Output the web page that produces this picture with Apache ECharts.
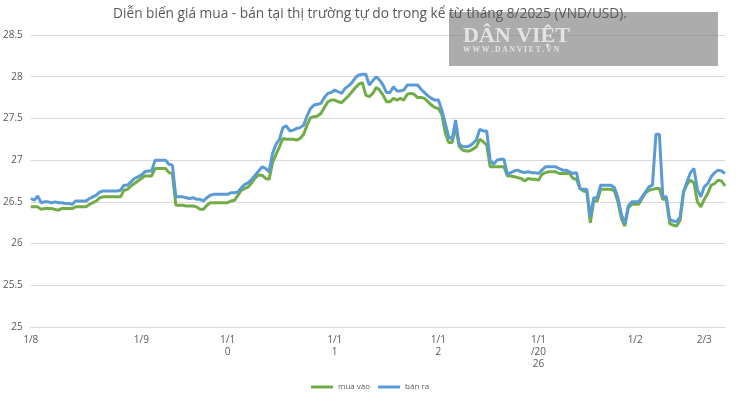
<!DOCTYPE html>
<html>
<head>
<meta charset="utf-8">
<script src="https://cdn.jsdelivr.net/npm/echarts@6.0.0/dist/echarts.min.js"></script>
<style>
  html, body { margin: 0; padding: 0; background: #fff; }
  #chart { width: 740px; height: 397px; }
</style>
</head>
<body>
<div id="chart"></div>
<script>
// one point per trading day, 1/8/2025 -> early 3/2026
const muaVao = [
  26.44, 26.44, 26.44, 26.41, 26.42, 26.42, 26.42, 26.41, 26.40, 26.42,
  26.42, 26.42, 26.42, 26.44, 26.44, 26.44, 26.44, 26.47, 26.49, 26.51,
  26.55, 26.56, 26.56, 26.56, 26.56, 26.56, 26.56, 26.64, 26.65, 26.69,
  26.72, 26.75, 26.78, 26.81, 26.81, 26.81, 26.90, 26.90, 26.90, 26.90,
  26.85, 26.84, 26.46, 26.46, 26.46, 26.45, 26.45, 26.45, 26.44, 26.41,
  26.41, 26.46, 26.49, 26.49, 26.49, 26.49, 26.49, 26.49, 26.51, 26.52,
  26.58, 26.64, 26.66, 26.68, 26.73, 26.79, 26.82, 26.82, 26.78, 26.77,
  26.97, 27.07, 27.16, 27.26, 27.25, 27.25, 27.25, 27.24, 27.26, 27.31,
  27.42, 27.51, 27.52, 27.53, 27.56, 27.63, 27.70, 27.72, 27.72, 27.70,
  27.69, 27.73, 27.77, 27.82, 27.87, 27.91, 27.93, 27.78, 27.76, 27.80,
  27.87, 27.84, 27.78, 27.70, 27.70, 27.74, 27.72, 27.74, 27.72, 27.79,
  27.80, 27.79, 27.75, 27.75, 27.74, 27.70, 27.66, 27.63, 27.62, 27.55,
  27.33, 27.21, 27.21, 27.40, 27.17, 27.12, 27.11, 27.11, 27.13, 27.16,
  27.25, 27.22, 27.18, 26.92, 26.92, 26.92, 26.92, 26.92, 26.81, 26.81,
  26.80, 26.79, 26.78, 26.75, 26.78, 26.77, 26.77, 26.76, 26.83, 26.85,
  26.86, 26.86, 26.86, 26.84, 26.84, 26.84, 26.84, 26.78, 26.77, 26.66,
  26.63, 26.62, 26.25, 26.51, 26.51, 26.65, 26.65, 26.65, 26.65, 26.63,
  26.50, 26.30, 26.21, 26.43, 26.47, 26.47, 26.47, 26.54, 26.61, 26.64,
  26.65, 26.66, 26.66, 26.53, 26.53, 26.24, 26.22, 26.21, 26.28, 26.62,
  26.71, 26.76, 26.73, 26.50, 26.44, 26.53, 26.60, 26.70, 26.72, 26.76,
  26.75, 26.69
];

const banRa = [
  26.54, 26.52, 26.57, 26.49, 26.50, 26.50, 26.49, 26.50, 26.49, 26.49,
  26.48, 26.48, 26.47, 26.51, 26.51, 26.51, 26.51, 26.54, 26.56, 26.58,
  26.62, 26.63, 26.63, 26.63, 26.63, 26.63, 26.64, 26.70, 26.70, 26.74,
  26.78, 26.80, 26.82, 26.86, 26.87, 26.87, 27.00, 27.00, 27.00, 27.00,
  26.95, 26.94, 26.56, 26.56, 26.56, 26.55, 26.54, 26.55, 26.53, 26.53,
  26.51, 26.55, 26.58, 26.59, 26.59, 26.59, 26.59, 26.59, 26.61, 26.61,
  26.62, 26.67, 26.71, 26.73, 26.77, 26.82, 26.87, 26.92, 26.90, 26.86,
  27.08, 27.19, 27.25, 27.39, 27.41, 27.35, 27.36, 27.38, 27.39, 27.42,
  27.53, 27.62, 27.66, 27.67, 27.68, 27.75, 27.80, 27.81, 27.84, 27.82,
  27.80, 27.86, 27.89, 27.93, 27.99, 28.02, 28.03, 28.03, 27.90, 27.95,
  28.00, 27.96, 27.90, 27.81, 27.81, 27.88, 27.83, 27.83, 27.84, 27.90,
  27.90, 27.90, 27.90, 27.85, 27.81, 27.77, 27.74, 27.72, 27.72, 27.60,
  27.44, 27.28, 27.25, 27.48, 27.20, 27.16, 27.16, 27.17, 27.20, 27.24,
  27.37, 27.35, 27.35, 27.00, 26.95, 27.00, 27.01, 27.01, 26.83, 26.85,
  26.87, 26.88, 26.86, 26.85, 26.86, 26.85, 26.85, 26.84, 26.88, 26.92,
  26.92, 26.92, 26.92, 26.90, 26.88, 26.88, 26.86, 26.84, 26.85, 26.66,
  26.65, 26.65, 26.32, 26.55, 26.55, 26.70, 26.70, 26.70, 26.70, 26.67,
  26.55, 26.35, 26.24, 26.45, 26.50, 26.50, 26.50, 26.56, 26.62, 26.68,
  26.70, 27.31, 27.31, 26.56, 26.56, 26.29, 26.27, 26.26, 26.32, 26.62,
  26.74, 26.85, 26.90, 26.65, 26.56, 26.68, 26.72, 26.80, 26.85, 26.88,
  26.87, 26.84
];

// where the date labels sit (index of the point) and how they're printed
const tickIndex = [0, 32, 57, 88, 118, 147, 175, 195];
const tickLabels = ['1/8', '1/9', '1/1\n0', '1/1\n1', '1/1\n2', '1/1\n/20\n26', '1/2', '2/3'];

const categories = muaVao.map((v, i) => i);

const chart = echarts.init(document.getElementById('chart'));

const green = '#70ad47';
const blue = '#5b9bd5';
const textGray = '#595959';

chart.setOption({
  animation: false,
  title: {
    text: 'Diễn biến giá mua - bán tại thị trường tự do trong kể từ tháng 8/2025 (VND/USD).',
    left: 'center',
    top: 2,
    zlevel: 1,
    textStyle: {
      color: textGray,
      fontFamily: 'Open Sans',
      fontSize: 13.7,
      fontWeight: 'normal'
    }
  },
  graphic: [
    // DanViet watermark box, sits over the top gridline
    {
      type: 'rect',
      z: 5,
      shape: { x: 449, y: 12, width: 269, height: 54 },
      style: { fill: 'rgba(125,125,125,0.64)' }
    },
    {
      type: 'text',
      z: 6,
      x: 463,
      y: 25,
      style: {
        text: 'DÂN VIỆT',
        fill: '#e4e4e4',
        font: 'bold 22px "Liberation Serif"'
      }
    },
    {
      type: 'text',
      z: 6,
      x: 463,
      y: 46,
      style: {
        text: 'W W W . D A N V I E T . V N',
        fill: '#e4e4e4',
        font: 'bold 7.5px "Liberation Serif"'
      }
    }
  ],
  legend: {
    bottom: 1,
    left: 306,
    icon: 'rect',
    itemWidth: 22,
    itemHeight: 3,
    itemGap: 8,
    textStyle: { color: textGray, fontSize: 8, fontFamily: 'Open Sans' },
    data: ['mua vào', 'bán ra']
  },
  grid: { left: 30, right: 15, top: 35, bottom: 70 },
  xAxis: {
    type: 'category',
    data: categories,
    boundaryGap: false,
    axisLine: { lineStyle: { color: '#d9d9d9' } },
    axisTick: { show: false },
    axisLabel: {
      interval: idx => tickIndex.includes(idx),
      formatter: (val, idx) => tickLabels[tickIndex.indexOf(idx)] || '',
      color: textGray,
      fontSize: 10,
      fontFamily: 'Open Sans',
      lineHeight: 12,
      margin: 7
    },
    splitLine: { show: false }
  },
  yAxis: {
    type: 'value',
    min: 25,
    max: 28.5,
    interval: 0.5,
    axisLine: { show: false },
    axisTick: { show: false },
    axisLabel: {
      color: textGray,
      fontSize: 10,
      fontFamily: 'Open Sans',
      margin: 8
    },
    splitLine: { lineStyle: { color: '#d9d9d9' } }
  },
  series: [
    {
      name: 'mua vào',
      type: 'line',
      data: muaVao,
      showSymbol: false,
      color: green,
      lineStyle: { width: 3, color: green }
    },
    {
      name: 'bán ra',
      type: 'line',
      data: banRa,
      showSymbol: false,
      color: blue,
      lineStyle: { width: 3, color: blue }
    }
  ]
});
</script>
</body>
</html>
